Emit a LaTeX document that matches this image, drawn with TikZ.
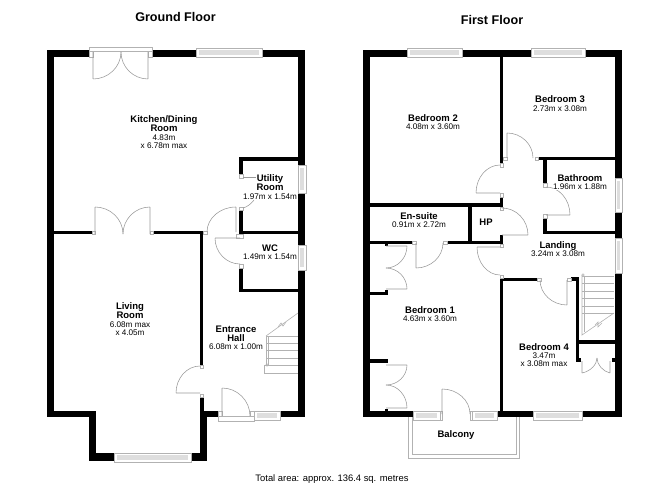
\documentclass[tikz,border=0pt]{standalone}
\usepackage{fontspec}
\setmainfont{Liberation Sans}
\usetikzlibrary{calc}

\tikzset{
	wall/.style = {fill = black},
	frame/.style = {draw = black!30, fill = white, line width = 0.6pt},
	glass/.style = {fill = black!13},
	jamb/.style = {draw = black!30, fill = white, line width = 0.5pt},
	swing/.style = {draw = black!40, line width = 0.55pt},
	stair/.style = {draw = black!30, line width = 0.6pt},
	title/.style = {font = \fontsize{12.6}{14}\selectfont\bfseries, inner sep = 0pt},
	roomtext/.style = {align = center, inner sep = 0pt, font = \fontsize{8.15}{8.4}\selectfont},
}

\begin{document}
\begin{tikzpicture}[x = 1pt, y = -1pt]
		\def\rname#1{{\fontsize{9.5}{9.2}\selectfont\bfseries #1}}
		\def\swing#1#2#3{\draw [swing] (#2) -- (#1) (#2) .. controls ($ (#2) + 0.55*(#3) - 0.55*(#1) $) and ($ (#3) + 0.55*(#2) - 0.55*(#1) $) .. (#3);}

		\useasboundingbox (0,0) rectangle (668,486);

		% ground floor walls
		\foreach \xa/\ya/\xb/\yb in {47/50/89/57, 152/50/196/57, 262/50/305/57, 47/50/54/417, 298/50/305/165, 298/193/305/245, 298/270/305/417,
				239/157/298/161, 239/157/243/174, 239/210/243/234, 239/231/298/234, 239/268/243/292, 239/289/298/292,
				54/231/92/234, 153/231/203/234, 200/231/203/365, 200/397/204/411, 200/411/207/461,
				47/411/96/417, 89/411/96/461, 89/453/114/461, 191/453/207/461, 200/411/218/417, 280/411/305/417}
			\fill [wall] (\xa,\ya) rectangle (\xb,\yb);

		% first floor walls
		\foreach \xa/\ya/\xb/\yb in {363/50/407/57, 462/50/531/57, 585/50/622/57, 363/50/370/417, 615/50/622/178, 615/212/622/238, 615/273/622/417,
				363/411/413/417, 497/411/533/417, 582/411/622/417,
				500/57/503/163, 500/197/503/207, 370/203/503/207, 468/207/472/241, 370/241/412/244, 447/241/503/244, 500/235/503/244, 500/278/503/412,
				538/157/615/160, 543/157/547/183, 543/218/547/234, 543/231/615/234,
				503/278/537/281, 571/277/579/281, 576/277/579/362, 576/340/615/344, 576/358/581/362, 612/358/615/362,
				370/292/388/295, 385/244/388/246, 385/290/388/295, 370/359/388/363, 385/409/388/412}
			\fill [wall] (\xa,\ya) rectangle (\xb,\yb);

		% windows
		\foreach \xa/\ya/\xb/\yb in {196/48/262/57, 114/453/191/462, 254/411/280/420, 407/48/462/57, 531/48/585/57, 413/411/440/420, 472/411/497/420, 533/411/582/420} {
			\draw [frame] (\xa,\ya) rectangle (\xb,\yb);
			\fill [glass] ($ (\xa,\ya) + (3,2) $) rectangle ($ (\xb,\yb) + (-3,-2) $);
		}
		\foreach \xa/\ya/\xb/\yb in {298/165/306/193, 298/245/306/270, 615/178/622/212, 615/238/622/273} {
			\draw [frame] (\xa,\ya) rectangle (\xb,\yb);
			\fill [glass] ($ (\xa,\ya) + (2,3) $) rectangle ($ (\xb,\yb) + (-2,-3) $);
		}

		% outer door frames
		\draw [jamb] (89,47) rectangle (152,51);
		\draw [jamb] (218,416) rectangle (254,421);

		% jambs
		\foreach \xa/\ya/\xb/\yb in {89/51/93/57, 148/51/152/57, 218/411/222/416, 250/411/254/416, 92/231/95/234, 150/231/153/234, 239/174/243/178, 239/207/243/210, 236/234/243/238, 239/264/243/268,
				203/231/207/234, 200/365/203/368, 200/394/203/397, 500/163/503/167, 500/193/503/197, 503/157/507/160, 535/157/538/160, 543/183/547/187, 543/214/547/218,
				500/207/503/210, 500/244/503/247, 500/275/503/278, 537/278/541/281, 567/278/571/281, 412/241/416/244, 443/241/447/244,
				440/411/442/420, 470/411/472/420}
			\draw [jamb] (\xa,\ya) rectangle (\xb,\yb);

		% balcony
		\draw [jamb, fill = none] (408,417) -- (408,458) -- (519,458) -- (519,417);
		\draw [jamb, fill = none] (412,417) -- (412,454) -- (516,454) -- (516,417);

		% door swings
		\swing{93,52}{93,79}{121,52}
		\swing{148,52}{148,79}{121,52}
		\swing{95,234}{95,207}{123,234}
		\swing{150,234}{150,207}{123,234}
		\swing{236,232}{236,207}{207,232}
		\swing{240,238}{215,238}{240,264}
		\swing{200,393}{176,393}{200,366}
		\swing{222,416}{222,388}{250,416}
		\swing{507,158}{507,133}{533,158}
		\swing{500,193}{476,193}{500,165}
		\swing{546,215}{570,215}{546,187}
		\swing{502,235}{528,235}{502,208}
		\swing{500,247}{477,247}{500,275}
		\swing{416,243}{416,268}{443,243}
		\swing{567,280}{567,305}{540,280}
		\swing{442,414}{442,389}{470,414}
		\swing{386,246}{407,246}{386,268}
		\swing{386,289}{407,289}{386,268}
		\swing{386,365}{407,365}{386,385}
		\swing{386,408}{407,408}{386,385}
		\swing{582,361}{582,373}{597,358}
		\swing{610,361}{610,373}{597,358}
		\draw [swing] (243,177) -- (256,177);
		\draw [swing] (243,208) .. controls (247,207) and (251,204) .. (254,200);

		% stairs
		\foreach \y in {336, 343, 350, 358} \draw [stair] (266,\y) -- (298,\y);
		\draw [stair] (264,373) -- (298,373);
		\draw [stair] (264,373) -- (264,365) -- (298,365);
		\draw [stair] (266,336) rectangle (268,365);
		\draw [stair] (267,365) circle (1.3);
		\draw [stair] (266,336) -- (298,313);
		\draw [stair] (278,327) -- (281,323) -- (283,326) -- (286,322);

		\foreach \y in {276, 283, 291, 298, 306, 313} \draw [stair] (582,\y) -- (614,\y);
		\draw [stair] (582,275) -- (582,335) -- (614,313);
		\draw [stair] (584,276) -- (584,332);
		\draw [stair, fill = white] (583,275) circle (1.3);
		\draw [stair] (595,325) -- (598,322) -- (598,327) -- (602,323);

		% labels
		\node [title] (ground) at (175.5,17) {Ground Floor};
		\node [title] (first) at (492,20) {First Floor};
		\node [roomtext] (kitchen) at (164,132) {\rname{Kitchen/Dining}\\\rname{Room}\\4.83m\\x 6.78m max};
		\node [roomtext] (utility) at (270,187) {\rname{Utility}\\\rname{Room}\\1.97m x 1.54m};
		\node [roomtext] (wc) at (270,252) {\rname{WC}\\1.49m x 1.54m};
		\node [roomtext] (living) at (130,319) {\rname{Living}\\\rname{Room}\\6.08m max\\x 4.05m};
		\node [roomtext] (hall) at (236,338) {\rname{Entrance}\\\rname{Hall}\\6.08m x 1.00m};
		\node [roomtext] (bed2) at (433,122) {\rname{Bedroom 2}\\4.08m x 3.60m};
		\node [roomtext] (bed3) at (560,103.5) {\rname{Bedroom 3}\\2.73m x 3.08m};
		\node [roomtext, fill = white] (bath) at (580,182) {\rname{Bathroom}\\1.96m x 1.88m};
		\node [roomtext] (ensuite) at (419,220) {\rname{En-suite}\\0.91m x 2.72m};
		\node [roomtext] (hp) at (486,222) {\rname{HP}};
		\node [roomtext] (landing) at (558,249) {\rname{Landing}\\3.24m x 3.08m};
		\node [roomtext] (bed1) at (430,314) {\rname{Bedroom 1}\\4.63m x 3.60m};
		\node [roomtext] (bed4) at (544,355) {\rname{Bedroom 4}\\3.47m\\x 3.08m max};
		\node [roomtext] (balcony) at (456,435) {\rname{Balcony}};
		\node [roomtext, font = \fontsize{9.4}{10}\selectfont] (total) at (332,479) {Total area: approx. 136.4 sq. metres};
	\end{tikzpicture}
\end{document}
